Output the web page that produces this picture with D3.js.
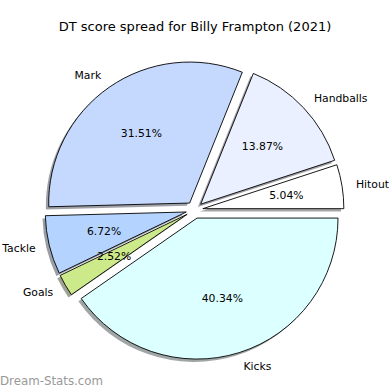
<!DOCTYPE html>
<html>
<head>
<meta charset="utf-8">
<script src="https://cdn.jsdelivr.net/npm/d3@7"></script>
<style>
  body { margin: 0; background: #fff; }
  text { font-family: "DejaVu Sans", sans-serif; fill: #000; }
</style>
</head>
<body>
<svg width="390" height="390"></svg>
<script>
// pie data, counter-clockwise from 3 o'clock (matplotlib order)
const categories = ["Hitout", "Handballs", "Mark", "Tackle", "Goals", "Kicks"];
const shares = [5.04, 13.87, 31.51, 6.72, 2.52, 40.34];
const colors = ["#ffffff", "#eaf0ff", "#c5d9ff", "#b4d4ff", "#cdea8a", "#dcffff"];
const explode = [0.06, 0.06, 0.06, 0.06, 0.06, 0.06];
const title = "DT score spread for Billy Frampton (2021)";

const cx = 194.5, cy = 210;
const r = d3.scaleLinear().domain([0, 1]).range([0, 141]);

const svg = d3.select("svg");

svg.append("text")
   .attr("x", 195)
   .attr("y", 26)
   .attr("text-anchor", "middle")
   .attr("dominant-baseline", "central")
   .style("font-size", "13px")
   .text(title);

const data = categories.map((c, i) => ({name: c, value: shares[i], color: colors[i], ex: explode[i]}));

// d3 angles are clockwise from 12 o'clock, so going from +90deg downwards = ccw from 3 o'clock
const pie = d3.pie()
              .sort(null)
              .value(d => d.value)
              .startAngle(Math.PI / 2)
              .endAngle(Math.PI / 2 - 2 * Math.PI);

const arcs = pie(data);
const arc = d3.arc().innerRadius(0).outerRadius(r(1));

function dir(a) {
  const m = (a.startAngle + a.endAngle) / 2;
  return [Math.sin(m), -Math.cos(m)];
}
function centre(a) {
  const [dx, dy] = dir(a);
  return [cx + dx * r(a.data.ex), cy + dy * r(a.data.ex)];
}

const g = svg.append("g");

// shadows first, offset -0.02 / -0.02 in data units (left and down)
g.selectAll("path.shadow")
 .data(arcs)
 .join("path")
 .attr("class", "shadow")
 .attr("transform", d => {
   const [x, y] = centre(d);
   return `translate(${x - r(0.02)},${y + r(0.02)})`;
 })
 .attr("d", arc)
 .attr("fill", d => {
   const c = d3.rgb(d.data.color);
   return d3.rgb(c.r * 0.3, c.g * 0.3, c.b * 0.3);
 })
 .attr("opacity", 0.5);

g.selectAll("path.wedge")
 .data(arcs)
 .join("path")
 .attr("class", "wedge")
 .attr("transform", d => `translate(${centre(d)})`)
 .attr("d", arc)
 .attr("fill", d => d.data.color)
 .attr("stroke", "#000")
 .attr("stroke-width", 0.9)
 .attr("stroke-linejoin", "miter");

// category labels at 1.1 R
g.selectAll("text.label")
 .data(arcs)
 .join("text")
 .attr("class", "label")
 .attr("x", d => centre(d)[0] + dir(d)[0] * r(1.1))
 .attr("y", d => centre(d)[1] + dir(d)[1] * r(1.1))
 .attr("text-anchor", d => dir(d)[0] > 0 ? "start" : "end")
 .attr("dominant-baseline", "central")
 .style("font-size", "10.8px")
 .text(d => d.data.name);

// percentages at 0.6 R
g.selectAll("text.pct")
 .data(arcs)
 .join("text")
 .attr("class", "pct")
 .attr("x", d => centre(d)[0] + dir(d)[0] * r(0.6))
 .attr("y", d => centre(d)[1] + dir(d)[1] * r(0.6))
 .attr("text-anchor", "middle")
 .attr("dominant-baseline", "central")
 .style("font-size", "10.8px")
 .text(d => d3.format(".2f")(d.data.value) + "%");

svg.append("text")
   .attr("x", 0)
   .attr("y", 385)
   .style("font-size", "11.8px")
   .style("fill", "#999")
   .text("Dream-Stats.com");
</script>
</body>
</html>
